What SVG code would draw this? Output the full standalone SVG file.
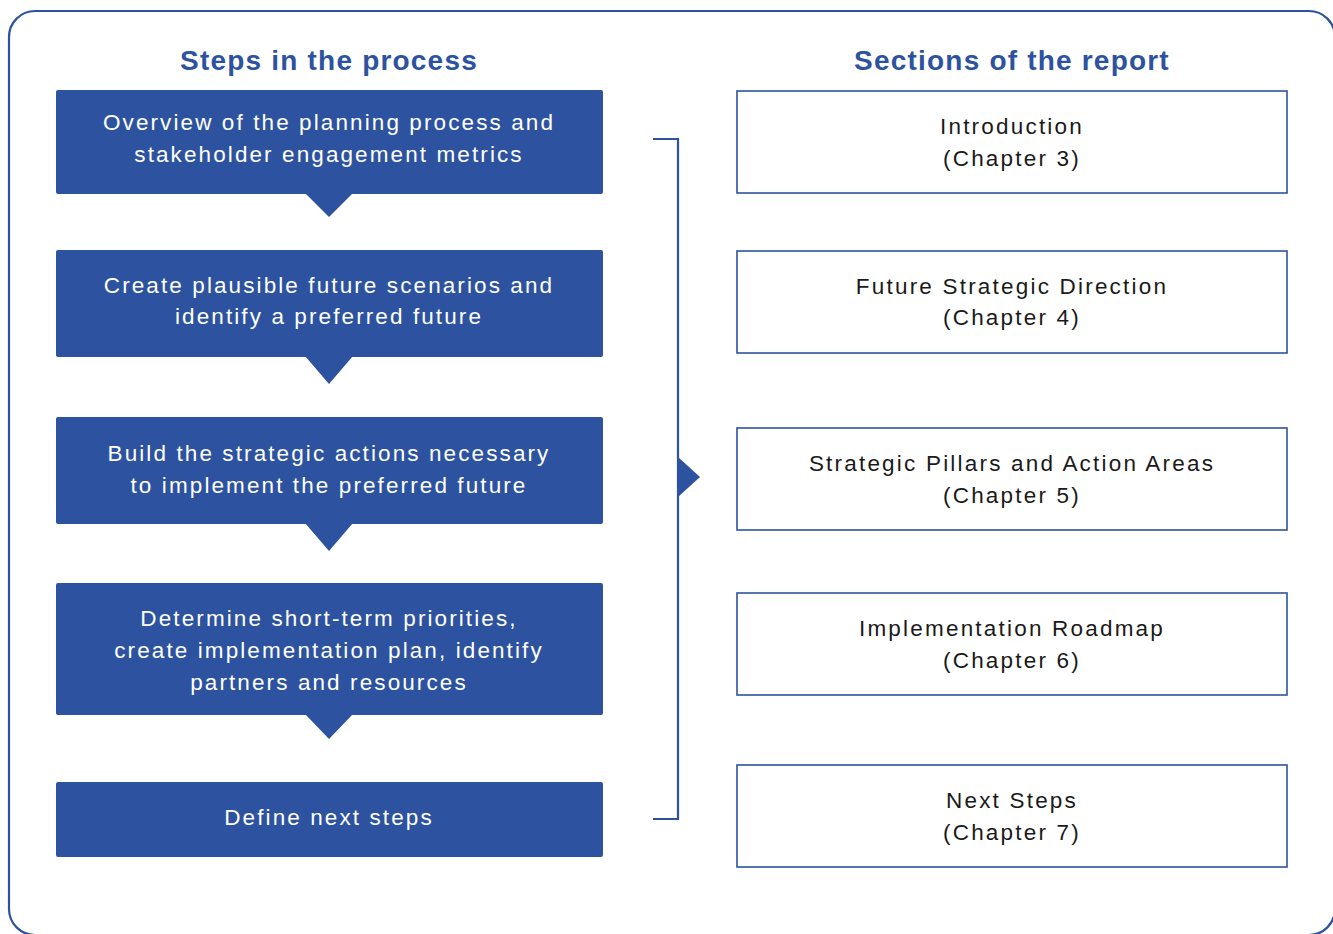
<svg xmlns="http://www.w3.org/2000/svg" width="1333" height="934" viewBox="0 0 1333 934">
<style>
.step rect{fill:#2d53a0}
.step polygon{fill:#2d53a0}
.step text{fill:#ffffff;font-family:"Liberation Sans",Arial,sans-serif;font-size:22.5px;letter-spacing:2.1px;text-anchor:middle}
.sec rect{fill:#ffffff;stroke:#2d53a0;stroke-width:1.6}
.sec text{fill:#1a1a1a;font-family:"Liberation Sans",Arial,sans-serif;font-size:22.5px;letter-spacing:2.2px;text-anchor:middle}
.title{fill:#2d53a0;font-family:"Liberation Sans",Arial,sans-serif;font-size:28px;font-weight:bold;letter-spacing:1.2px;text-anchor:middle}
</style>
<rect width="1333" height="934" fill="#ffffff"/>
<rect x="9" y="11" width="1326" height="924" rx="26" ry="26" fill="none" stroke="#2d53a0" stroke-width="2.2"/>
<text class="title" x="329" y="70">Steps in the process</text>
<text class="title" x="1012" y="70">Sections of the report</text>

<g id="step1" class="step">
<rect x="56" y="90" width="547" height="104" rx="2"/>
<polygon points="305,193 353,193 329,217"/>
<text x="329" y="130">Overview of the planning process and</text>
<text x="329" y="162">stakeholder engagement metrics</text>
</g>
<g id="step2" class="step">
<rect x="56" y="250" width="547" height="107" rx="2"/>
<polygon points="305,356 353,356 329,384"/>
<text x="329" y="293">Create plausible future scenarios and</text>
<text x="329" y="324">identify a preferred future</text>
</g>
<g id="step3" class="step">
<rect x="56" y="417" width="547" height="107" rx="2"/>
<polygon points="305,523 353,523 329,551"/>
<text x="329" y="461">Build the strategic actions necessary</text>
<text x="329" y="493">to implement the preferred future</text>
</g>
<g id="step4" class="step">
<rect x="56" y="583" width="547" height="132" rx="2"/>
<polygon points="305,714 353,714 329,739"/>
<text x="329" y="626">Determine short-term priorities,</text>
<text x="329" y="658">create implementation plan, identify</text>
<text x="329" y="690">partners and resources</text>
</g>
<g id="step5" class="step">
<rect x="56" y="782" width="547" height="75" rx="2"/>
<text x="329" y="825">Define next steps</text>
</g>

<g id="connectors">
<polyline points="653,139 678,139 678,819 653,819" fill="none" stroke="#2d53a0" stroke-width="2.2"/>
<polygon points="678,457 700,477 678,497" fill="#2d53a0"/>
</g>

<g id="sec1" class="sec">
<rect x="737" y="91" width="550" height="102"/>
<text x="1012" y="134">Introduction</text>
<text x="1012" y="166">(Chapter 3)</text>
</g>
<g id="sec2" class="sec">
<rect x="737" y="251" width="550" height="102"/>
<text x="1012" y="294">Future Strategic Direction</text>
<text x="1012" y="325">(Chapter 4)</text>
</g>
<g id="sec3" class="sec">
<rect x="737" y="428" width="550" height="102"/>
<text x="1012" y="471">Strategic Pillars and Action Areas</text>
<text x="1012" y="503">(Chapter 5)</text>
</g>
<g id="sec4" class="sec">
<rect x="737" y="593" width="550" height="102"/>
<text x="1012" y="636">Implementation Roadmap</text>
<text x="1012" y="668">(Chapter 6)</text>
</g>
<g id="sec5" class="sec">
<rect x="737" y="765" width="550" height="102"/>
<text x="1012" y="808">Next Steps</text>
<text x="1012" y="840">(Chapter 7)</text>
</g>
</svg>
